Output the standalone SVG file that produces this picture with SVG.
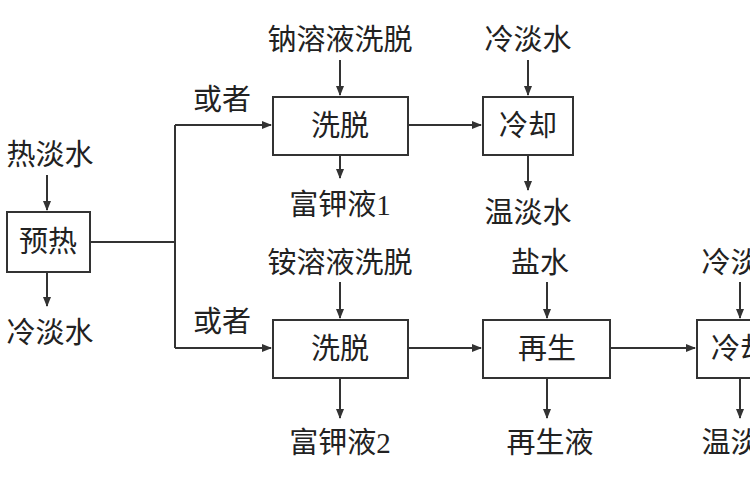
<svg xmlns="http://www.w3.org/2000/svg" width="750" height="500" viewBox="0 0 750 500">
<style>
.b{fill:#fff;stroke:#333;stroke-width:2}
.t{font-family:"Liberation Serif","Noto Sans CJK SC",serif;font-size:29px;fill:#222;text-anchor:middle}
.c{stroke:#333;stroke-width:2;fill:none}
</style>
<defs><marker id="a" markerWidth="10" markerHeight="10" refX="9" refY="5" orient="auto" markerUnits="userSpaceOnUse"><path d="M0,1 L10,5 L0,9 z" fill="#333"/></marker></defs>
<rect width="750" height="500" fill="#fff"/>
<g id="connectors">
<path class="c" d="M47,175 V210" marker-end="url(#a)"/>
<path class="c" d="M47,272 V306" marker-end="url(#a)"/>
<path class="c" d="M90,242 H175"/>
<path class="c" d="M175,125 V348"/>
<path class="c" d="M175,125 H271" marker-end="url(#a)"/>
<path class="c" d="M175,348 H271" marker-end="url(#a)"/>
<path class="c" d="M340,60 V95" marker-end="url(#a)"/>
<path class="c" d="M340,155 V178" marker-end="url(#a)"/>
<path class="c" d="M408,125 H481" marker-end="url(#a)"/>
<path class="c" d="M528,60 V95" marker-end="url(#a)"/>
<path class="c" d="M528,155 V190" marker-end="url(#a)"/>
<path class="c" d="M340,282 V318" marker-end="url(#a)"/>
<path class="c" d="M340,378 V418" marker-end="url(#a)"/>
<path class="c" d="M408,348 H481" marker-end="url(#a)"/>
<path class="c" d="M547,282 V318" marker-end="url(#a)"/>
<path class="c" d="M547,378 V418" marker-end="url(#a)"/>
<path class="c" d="M610,348 H695" marker-end="url(#a)"/>
<path class="c" d="M740,282 V318" marker-end="url(#a)"/>
<path class="c" d="M740,378 V418" marker-end="url(#a)"/>
</g>
<g id="n_yure"><rect class="b" x="7" y="212" width="83" height="60"/><text class="t" x="48" y="252">预热</text></g>
<g id="n_xituo1"><rect class="b" x="273" y="97" width="135" height="58"/><text class="t" x="340" y="136">洗脱</text></g>
<g id="n_lengque1"><rect class="b" x="483" y="97" width="90" height="58"/><text class="t" x="528" y="136">冷却</text></g>
<g id="n_xituo2"><rect class="b" x="273" y="320" width="135" height="58"/><text class="t" x="340" y="359">洗脱</text></g>
<g id="n_zaisheng"><rect class="b" x="483" y="320" width="127" height="58"/><text class="t" x="547" y="359">再生</text></g>
<g id="n_lengque2"><rect class="b" x="697" y="320" width="70" height="58"/><text class="t" x="740" y="359">冷却</text></g>
<g id="labels">
<text class="t" x="50" y="165">热淡水</text>
<text class="t" x="50" y="343">冷淡水</text>
<text class="t" x="222" y="110">或者</text>
<text class="t" x="222" y="332">或者</text>
<text class="t" x="340" y="50">钠溶液洗脱</text>
<text class="t" x="528" y="50">冷淡水</text>
<text class="t" x="340" y="215">富钾液1</text>
<text class="t" x="528" y="223">温淡水</text>
<text class="t" x="340" y="273">铵溶液洗脱</text>
<text class="t" x="540" y="273">盐水</text>
<text class="t" x="340" y="453">富钾液2</text>
<text class="t" x="550" y="453">再生液</text>
<text class="t" x="745" y="273">冷淡水</text>
<text class="t" x="745" y="453">温淡水</text>
</g>
</svg>
